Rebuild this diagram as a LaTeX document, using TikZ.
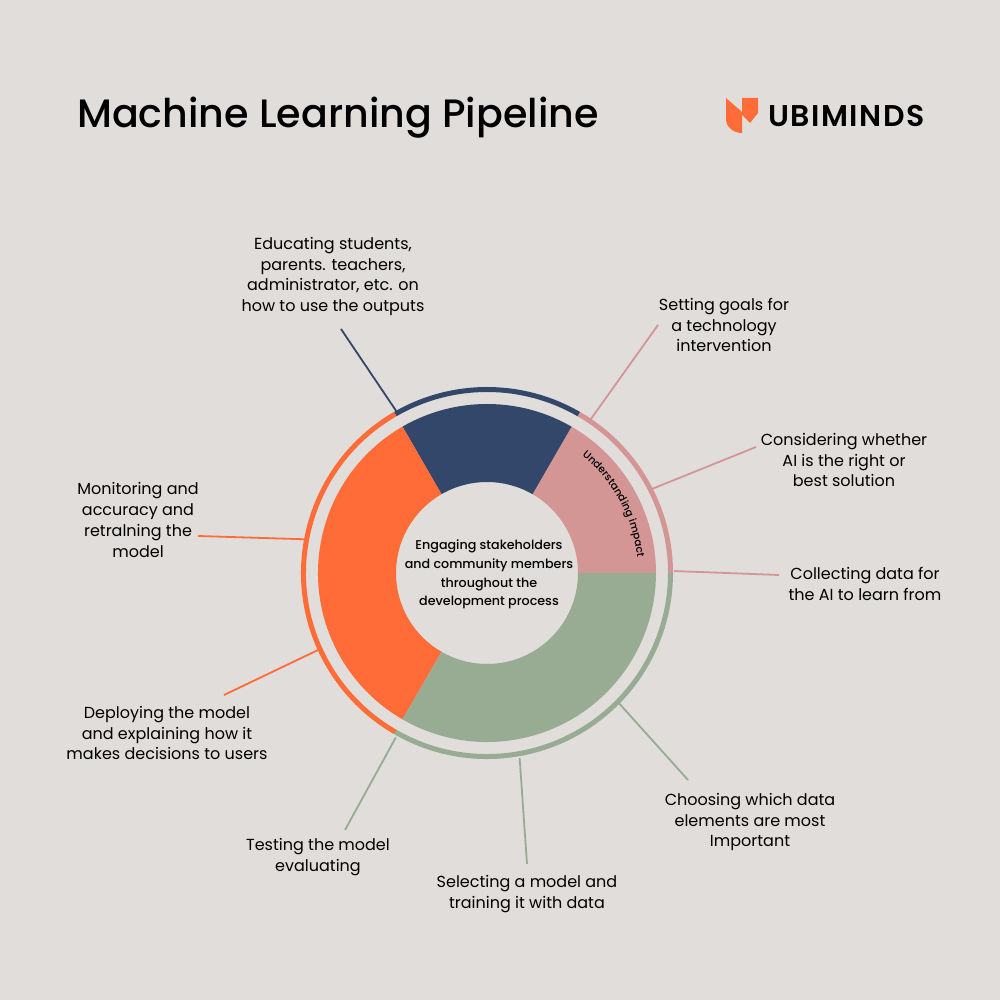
\documentclass[tikz,border=0pt]{standalone}
\usepackage{fontspec}
\setmainfont{Poppins}
\newfontfamily\titlefont{Poppins Medium}
\newfontfamily\brandfont{Poppins SemiBold}[LetterSpace=5.2]
\usetikzlibrary{decorations.text}
\definecolor{paper}{HTML}{E0DDDA}
\definecolor{navy}{HTML}{33476B}
\definecolor{rose}{HTML}{D49595}
\definecolor{coral}{HTML}{FF6C37}
\definecolor{sage}{HTML}{98AC93}
\tikzset{
  steplabel/.style={align=center, inner sep=0pt, font=\fontsize{16}{20.7}\selectfont},
  leader/.style={line width=1.8pt},
}
\begin{document}
\begin{tikzpicture}[x=1pt, y=1pt]
\fill[paper] (0,0) rectangle (1000,1000);
\useasboundingbox (0,0) rectangle (1000,1000);
\node (title) [anchor=west, inner sep=0pt, font=\titlefont\fontsize{39.6}{39.6}\selectfont] at (77,882) {Machine Learning Pipeline};
\fill[coral] (726,902) -- (742,888) -- (742,867) arc (-90:-180:16 and 14) -- cycle;
\fill[coral] (742,902) -- (758,902) -- (758,887) -- (750,877) -- (742,885) -- cycle;
\node (brand) [anchor=west, inner sep=0pt, font=\brandfont\fontsize{30}{30}\selectfont] at (768,884) {UBIMINDS};
\begin{scope}[shift={(487,427)}]
\foreach \from/\to/\col in {0/60/rose, 60/120/navy, 120/240/coral, 240/360/sage} {
  \fill[\col] (\from:91) -- (\from:169) arc (\from:\to:169) -- (\to:91) arc (\to:\from:91) -- cycle;
  \draw[\col, line width=5pt] (\from:183.5) arc (\from:\to:183.5);
}
\coordinate (edutip) at (119.2:183);
\coordinate (goaltip) at (56:184);
\coordinate (whethertip) at (27:185);
\coordinate (collecttip) at (0.6:187);
\coordinate (choosetip) at (-44.6:185);
\coordinate (selecttip) at (-80:188);
\coordinate (testtip) at (-119:188);
\coordinate (deploytip) at (-155.5:185);
\coordinate (monitortip) at (169.5:185);
\path[decorate, decoration={text along path, text align=center, text={|\titlefont\fontsize{10.4}{11}\selectfont|Understanding impact}}] (53:151) arc (53:4:151);
\end{scope}
\node (hub) [align=center, inner sep=0pt, font=\titlefont\fontsize{12.7}{18.6}\selectfont] at (489,425.5) {Engaging stakeholders\\and community members\\throughout the\\development process};
\node (edu) [steplabel] at (333,723.5) {Educating students,\\parents. teachers,\\administrator, etc. on\\how to use the outputs};
\node (goal) [steplabel] at (724,675) {Setting goals for\\a technology\\intervention};
\node (whether) [steplabel] at (844,540) {Considering whether\\AI is the right or\\best solution};
\node (collect) [steplabel] at (865,416) {Collecting data for\\the AI to learn from};
\node (choose) [steplabel] at (750,178) {Choosing which data\\elements are most\\Important};
\node (select) [steplabel] at (527,106) {Selecting a model and\\training it with data};
\node (test) [steplabel] at (318,143) {Testing the model\\evaluating};
\node (deploy) [steplabel] at (167,267) {Deploying the model\\and explaining how it\\makes decisions to users};
\node (monitor) [steplabel] at (138,480) {Monitoring and\\accuracy and\\retralning the\\model};
\draw[leader, navy] ([shift={(8,-52.5)}]edu.center) -- (edutip);
\draw[leader, rose] ([shift={(-66,0)}]goal.center) -- (goaltip);
\draw[leader, rose] ([shift={(-88,13)}]whether.center) -- (whethertip);
\draw[leader, rose] ([shift={(-86,9)}]collect.center) -- (collecttip);
\draw[leader, sage] ([shift={(-62,42)}]choose.center) -- (choosetip);
\draw[leader, sage] ([shift={(0,30)}]select.center) -- (selecttip);
\draw[leader, sage] ([shift={(27,27)}]test.center) -- (testtip);
\draw[leader, coral] ([shift={(57,38)}]deploy.center) -- (deploytip);
\draw[leader, coral] ([shift={(60,-16)}]monitor.center) -- (monitortip);
\end{tikzpicture}
\end{document}
